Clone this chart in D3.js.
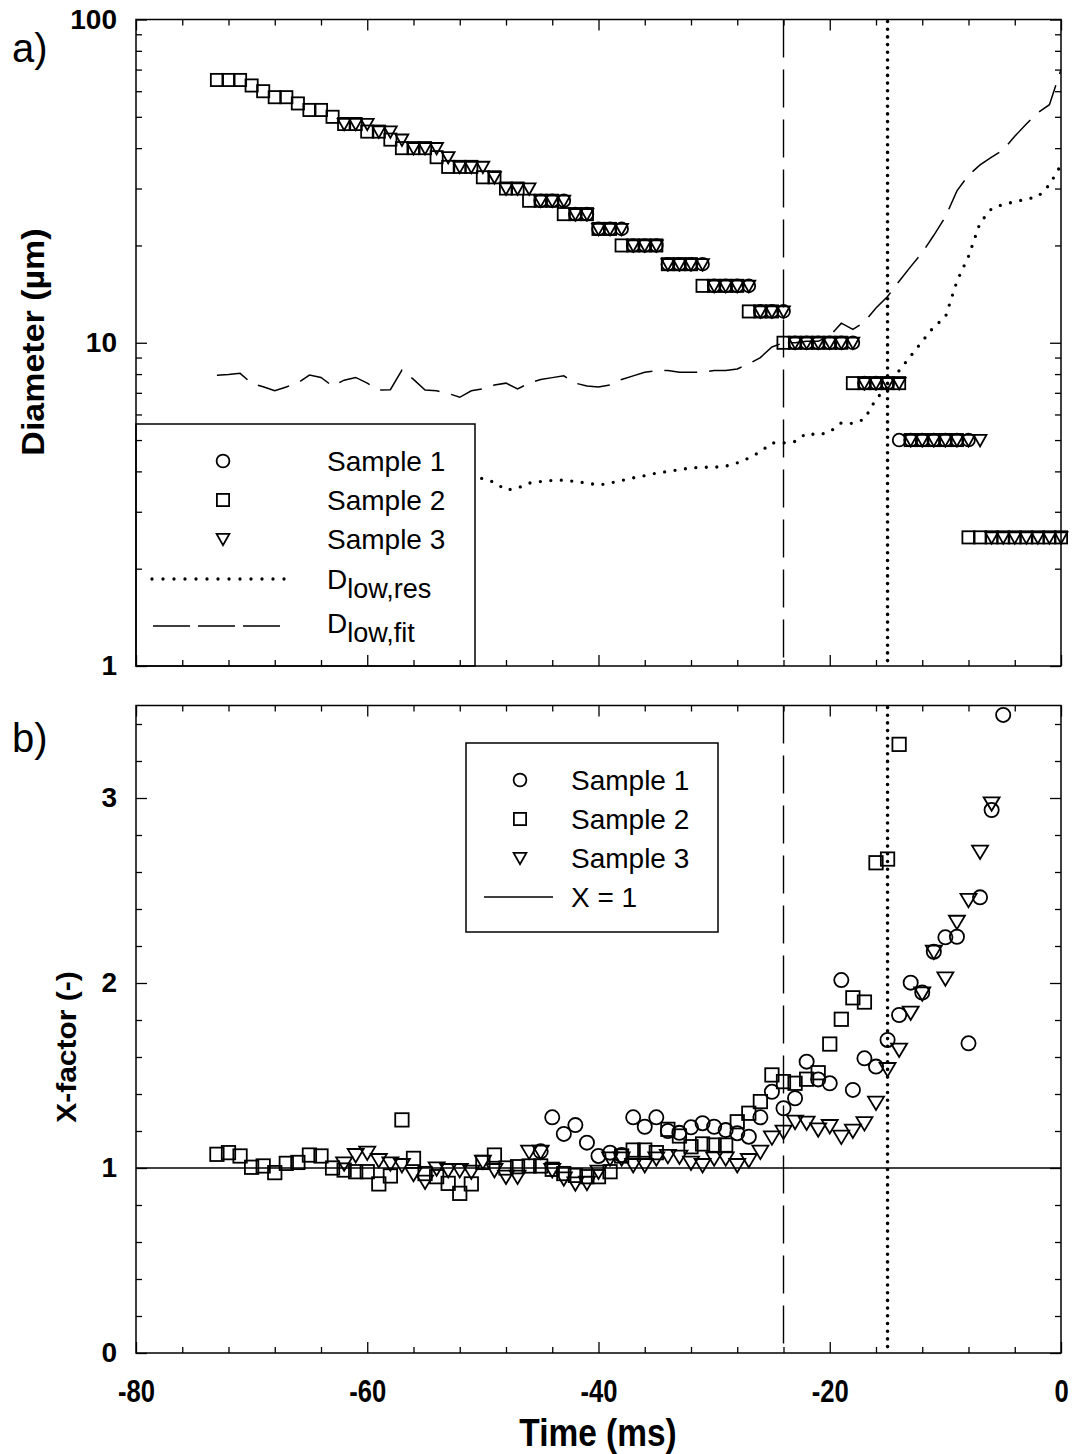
<!DOCTYPE html>
<html><head><meta charset="utf-8">
<script src="https://cdn.jsdelivr.net/npm/d3@7"></script>
<style>body{margin:0;background:#fff}</style>
</head><body>
<svg id="c" width="1073" height="1454" xmlns="http://www.w3.org/2000/svg"></svg>
<script>
// ---------- DATA ----------
// Panel a: diameter (µm) vs time (ms) per sample, [time, diameter]
const sample1Diameter = [[-45,27.5],[-44,27.5],[-43,27.5],[-42,25],[-41,25],[-40,22.5],[-39,22.5],[-38,22.5],[-37,20],[-36,20],[-35,20],[-34,17.5],[-33,17.5],[-32,17.5],[-31,17.5],[-30,15],[-29,15],[-28,15],[-27,15],[-26,12.5],[-25,12.5],[-24,12.5],[-23,10],[-22,10],[-21,10],[-20,10],[-19,10],[-18,10],[-17,7.5],[-16,7.5],[-15,7.5],[-14,5],[-13,5],[-12,5],[-11,5],[-10,5],[-9,5],[-8,5]];
const sample2Diameter = [[-73,65],[-72,65],[-71,65],[-70,62.5],[-69,60],[-68,57.5],[-67,57.5],[-66,55],[-65,52.5],[-64,52.5],[-63,50],[-62,47.5],[-61,47.5],[-60,45],[-59,45],[-58,42.5],[-57,40],[-56,40],[-55,40],[-54,37.5],[-53,35],[-52,35],[-51,35],[-50,32.5],[-49,32.5],[-48,30],[-47,30],[-46,27.5],[-45,27.5],[-44,27.5],[-43,25],[-42,25],[-41,25],[-40,22.5],[-39,22.5],[-38,20],[-37,20],[-36,20],[-35,20],[-34,17.5],[-33,17.5],[-32,17.5],[-31,15],[-30,15],[-29,15],[-28,15],[-27,12.5],[-26,12.5],[-25,12.5],[-24,10],[-23,10],[-22,10],[-21,10],[-20,10],[-19,10],[-18,7.5],[-17,7.5],[-16,7.5],[-15,7.5],[-14,7.5],[-13,5],[-12,5],[-11,5],[-10,5],[-9,5],[-8,2.5],[-7,2.5],[-6,2.5],[-5,2.5],[-4,2.5],[-3,2.5],[-2,2.5],[-1,2.5],[0,2.5]];
const sample3Diameter = [[-62,47.5],[-61,47.5],[-60,47.5],[-59,45],[-58,45],[-57,42.5],[-56,40],[-55,40],[-54,40],[-53,37.5],[-52,35],[-51,35],[-50,35],[-49,32.5],[-48,30],[-47,30],[-46,30],[-45,27.5],[-44,27.5],[-43,27.5],[-42,25],[-41,25],[-40,22.5],[-39,22.5],[-38,22.5],[-37,20],[-36,20],[-35,20],[-34,17.5],[-33,17.5],[-32,17.5],[-31,17.5],[-30,15],[-29,15],[-28,15],[-27,15],[-26,12.5],[-25,12.5],[-24,12.5],[-23,10],[-22,10],[-21,10],[-20,10],[-19,10],[-18,10],[-17,7.5],[-16,7.5],[-15,7.5],[-14,7.5],[-13,5],[-12,5],[-11,5],[-10,5],[-9,5],[-8,5],[-7,5],[-6,2.5],[-5,2.5],[-4,2.5],[-3,2.5],[-2,2.5],[-1,2.5],[0,2.5]];

// D_low,fit and D_low,res curves
const fitTime = [-73,-72,-71,-70,-69,-68,-67,-66,-65,-64,-63,-62,-61,-60,-59,-58,-57,-56,-55,-54,-53,-52,-51,-50,-49,-48,-47,-46,-45,-44,-43,-42,-41,-40,-39,-38,-37,-36,-35,-34,-33,-32,-31,-30,-29,-28,-27,-26,-25,-24,-23,-22,-21,-20,-19,-18,-17,-16,-15,-14,-13,-12,-11,-10,-9,-8,-7,-6,-5,-4,-3,-2,-1,0];
const fitDiameter = [7.94,7.98,8.04,7.49,7.31,7.10,7.30,7.52,7.94,7.81,7.34,7.66,7.81,7.50,7.14,7.16,8.23,7.70,7.14,7.10,6.97,6.78,7.10,7.20,7.40,7.50,7.20,7.50,7.70,7.80,7.90,7.50,7.35,7.30,7.40,7.70,7.90,8.10,8.20,8.20,8.10,8.10,8.10,8.20,8.20,8.30,8.60,9.00,9.70,10.0,10.0,10.1,10.1,10.5,11.5,11.0,11.6,12.8,13.9,15.5,17.2,19.0,21.5,24.5,29.5,33.0,35.5,37.5,39.5,43.5,47.5,51.5,54.5,70.0];
const resTime = [-51,-50,-49,-48,-47,-46,-45,-44,-43,-42,-41,-40,-39,-38,-37,-36,-35,-34,-33,-32,-31,-30,-29,-28,-27,-26,-25,-24,-23,-22,-21,-20,-19,-18,-17,-16,-15,-14,-13,-12,-11,-10,-9,-8,-7,-6,-5,-4,-3,-2,-1,0];
const resDiameter = [3.85,3.80,3.70,3.50,3.55,3.68,3.72,3.75,3.76,3.72,3.68,3.63,3.68,3.75,3.82,3.88,3.95,4.00,4.05,4.10,4.12,4.12,4.15,4.25,4.40,4.60,4.90,4.90,4.95,5.25,5.18,5.30,5.65,5.63,5.80,6.70,7.30,8.20,9.10,10.1,11.2,12.0,15.5,18.5,23.5,26.0,26.8,27.3,27.8,28.3,30.8,35.5];

// Panel b: X-factor vs time, [time, X]
const sample1X = [[-45,1.09],[-44,1.274],[-43,1.184],[-42,1.232],[-41,1.137],[-40,1.065],[-39,1.083],[-38,1.07],[-37,1.274],[-36,1.223],[-35,1.274],[-34,1.20],[-33,1.19],[-32,1.22],[-31,1.242],[-30,1.223],[-29,1.205],[-28,1.188],[-27,1.169],[-26,1.274],[-25,1.412],[-24,1.323],[-23,1.377],[-22,1.575],[-21,1.479],[-20,1.458],[-19,2.016],[-18,1.422],[-17,1.593],[-16,1.548],[-15,1.692],[-14,1.827],[-13,2.002],[-12,1.948],[-11,2.169],[-10,2.247],[-9,2.25],[-8,1.674],[-7,2.463],[-6,2.935],[-5,3.449]];
const sample2X = [[-73,1.074],[-72,1.083],[-71,1.065],[-70,1.004],[-69,1.011],[-68,0.975],[-67,1.025],[-66,1.03],[-65,1.07],[-64,1.065],[-63,1.0],[-62,0.989],[-61,0.98],[-60,0.98],[-59,0.914],[-58,0.957],[-57,1.26],[-56,1.052],[-55,0.97],[-54,0.953],[-53,0.917],[-52,0.863],[-51,0.914],[-50,1.03],[-49,1.07],[-48,1.0],[-47,1.007],[-46,1.011],[-45,1.011],[-44,0.993],[-43,0.97],[-42,0.96],[-41,0.953],[-40,0.953],[-39,0.98],[-38,1.065],[-37,1.097],[-36,1.097],[-35,1.083],[-34,1.209],[-33,1.173],[-32,1.115],[-31,1.13],[-30,1.124],[-29,1.124],[-28,1.25],[-27,1.296],[-26,1.359],[-25,1.503],[-24,1.467],[-23,1.458],[-22,1.48],[-21,1.515],[-20,1.67],[-19,1.804],[-18,1.92],[-17,1.897],[-16,2.65],[-15,2.67],[-14,3.29]];
const sample3X = [[-62,1.025],[-61,1.07],[-60,1.083],[-59,1.043],[-58,1.025],[-57,1.016],[-56,0.968],[-55,0.926],[-54,0.998],[-53,0.989],[-52,0.989],[-51,0.98],[-50,1.034],[-49,0.989],[-48,0.953],[-47,0.953],[-46,1.088],[-45,1.088],[-44,0.989],[-43,0.944],[-42,0.917],[-41,0.92],[-40,0.98],[-39,1.052],[-38,1.052],[-37,1.016],[-36,1.016],[-35,1.052],[-34,1.065],[-33,1.061],[-32,1.029],[-31,1.016],[-30,1.052],[-29,1.052],[-28,1.016],[-27,1.043],[-26,1.088],[-25,1.165],[-24,1.196],[-23,1.25],[-22,1.245],[-21,1.209],[-20,1.227],[-19,1.169],[-18,1.202],[-17,1.242],[-16,1.353],[-15,1.535],[-14,1.64],[-13,1.84],[-12,1.944],[-11,2.169],[-10,2.025],[-9,2.331],[-8,2.449],[-7,2.71],[-6,2.971]];

// reference lines and ticks
const eventTimes = {dashed: -24, dotted: -15};
const xTickValues = [-80,-60,-40,-20,0];
const yTickValuesA = [1,10,100];
const yTickValuesB = [0,1,2,3];
const legendA = ["Sample 1","Sample 2","Sample 3"];
const legendB = ["Sample 1","Sample 2","Sample 3","X = 1"];

// ---------- DRAW ----------
const svg = d3.select("#c");
const L = 136, R = 1061;
const aTop = 19.5, aBot = 666, bTop = 705.5, bBot = 1353;
const x = d3.scaleLinear().domain([-80,0]).range([L,R]);
const yA = d3.scaleLog().domain([1,100]).range([aBot,aTop]);
const yB = d3.scaleLinear().domain([0,3.5]).range([bBot,bTop]);

const xMinor = d3.range(-80,0.1,4).filter(v => !xTickValues.includes(v));
const yMinorA = [2,3,4,5,6,7,8,9,20,30,40,50,60,70,80,90];
const yMinorB = d3.range(0,3.51,0.2).map(v=>+v.toFixed(1)).filter(v => !yTickValuesB.includes(v));

const tickFontY = "bold 28px 'Liberation Sans', Arial, sans-serif";
const tickFontX = "bold 32px 'Liberation Sans', Arial, sans-serif";
const plain = d => String(d);

function axes(y, top, bot, yMajor, yMinor, showX) {
  const g = svg.append("g");
  const style = sel => { sel.select(".domain").remove(); sel.selectAll("line").attr("stroke","#000").attr("stroke-width",1.3); };
  g.append("g").attr("transform",`translate(${L},0)`)
    .call(d3.axisLeft(y).tickValues(yMajor).tickSizeInner(-11).tickSizeOuter(0).tickPadding(19).tickFormat(plain))
    .call(style).call(s=>s.selectAll("text").style("font",tickFontY).attr("fill","#000"));
  g.append("g").attr("transform",`translate(${L},0)`)
    .call(d3.axisLeft(y).tickValues(yMinor).tickSizeInner(-6).tickSizeOuter(0).tickFormat(""))
    .call(style);
  g.append("g").attr("transform",`translate(${R},0)`)
    .call(d3.axisRight(y).tickValues(yMajor).tickSizeInner(-11).tickSizeOuter(0).tickFormat(""))
    .call(style);
  g.append("g").attr("transform",`translate(${R},0)`)
    .call(d3.axisRight(y).tickValues(yMinor).tickSizeInner(-6).tickSizeOuter(0).tickFormat(""))
    .call(style);
  g.append("g").attr("transform",`translate(0,${top})`)
    .call(d3.axisTop(x).tickValues(xTickValues).tickSizeInner(-11).tickSizeOuter(0).tickFormat(""))
    .call(style);
  g.append("g").attr("transform",`translate(0,${top})`)
    .call(d3.axisTop(x).tickValues(xMinor).tickSizeInner(-6).tickSizeOuter(0).tickFormat(""))
    .call(style);
  g.append("g").attr("transform",`translate(0,${bot})`)
    .call(d3.axisBottom(x).tickValues(xTickValues).tickSizeInner(-11).tickSizeOuter(0).tickPadding(26).tickFormat(showX ? plain : ""))
    .call(style).call(s=>s.selectAll("text").style("font",tickFontX).attr("fill","#000").attr("transform","scale(0.8,1)"));
  g.append("g").attr("transform",`translate(0,${bot})`)
    .call(d3.axisBottom(x).tickValues(xMinor).tickSizeInner(-6).tickSizeOuter(0).tickFormat(""))
    .call(style);
  g.append("rect").attr("x",L).attr("y",top).attr("width",R-L).attr("height",bot-top)
    .attr("fill","none").attr("stroke","#000").attr("stroke-width",1.5);
}

// marker shapes (size config per panel)
const sizeA = {r:6.4, sq:12.2, tw:12.8, th:11.4};
const sizeB = {r:7.1, sq:13.4, tw:16.0, th:13.4};
function marker(sel, type, px, py, s) {
  if (type === "circle") {
    sel.append("circle").attr("cx",px).attr("cy",py).attr("r",s.r);
  } else if (type === "square") {
    sel.append("rect").attr("x",px-s.sq/2).attr("y",py-s.sq/2).attr("width",s.sq).attr("height",s.sq);
  } else {
    const hw = s.tw/2, t = s.th*0.45, b = s.th*0.55;
    sel.append("path").attr("d",`M${px-hw},${py-t} L${px+hw},${py-t} L${px},${py+b} Z`);
  }
}
function drawSeries(data, y, type, s) {
  const g = svg.append("g").attr("fill","none").attr("stroke","#000").attr("stroke-width",1.8).attr("stroke-linejoin","miter");
  data.forEach(d => marker(g, type, x(d[0]), y(d[1]), s));
}

// ----- Panel a -----
const fitLine = d3.line().x((d,i)=>x(fitTime[i])).y(d=>yA(d));
svg.append("path").attr("d", fitLine(fitDiameter)).attr("fill","none").attr("stroke","#000")
  .attr("stroke-width",1.5).attr("stroke-dasharray","33 12");
const resLine = d3.line().x((d,i)=>x(resTime[i])).y(d=>yA(d));
svg.append("path").attr("d", resLine(resDiameter)).attr("fill","none").attr("stroke","#000")
  .attr("stroke-width",3.3).attr("stroke-linecap","round").attr("stroke-dasharray","0 10.5");

function vlines(top, bot) {
  svg.append("line").attr("x1",x(eventTimes.dashed)).attr("x2",x(eventTimes.dashed))
    .attr("y1",top).attr("y2",bot).attr("stroke","#000").attr("stroke-width",1.4).attr("stroke-dasharray","38 12");
  svg.append("line").attr("x1",x(eventTimes.dotted)).attr("x2",x(eventTimes.dotted))
    .attr("y1",top+2).attr("y2",bot).attr("stroke","#000").attr("stroke-width",3.6)
    .attr("stroke-linecap","round").attr("stroke-dasharray","0 7.7");
}
vlines(aTop, aBot);

drawSeries(sample2Diameter, yA, "square", sizeA);
drawSeries(sample1Diameter, yA, "circle", sizeA);
drawSeries(sample3Diameter, yA, "triangle", sizeA);

// legend a
const legFont = "28px 'Liberation Sans', Arial, sans-serif";
const la = svg.append("g");
la.append("rect").attr("x",L).attr("y",424).attr("width",339).attr("height",aBot-424)
  .attr("fill","#fff").attr("stroke","#000").attr("stroke-width",1.5);
const laSym = la.append("g").attr("fill","none").attr("stroke","#000").attr("stroke-width",1.8);
["circle","square","triangle"].forEach((t,i)=>{
  marker(laSym, t, 223, 461 + i*39, sizeA);
  la.append("text").attr("x",327).attr("y",471 + i*39).text(legendA[i]).style("font",legFont);
});
la.append("line").attr("x1",152).attr("x2",286).attr("y1",579).attr("y2",579).attr("stroke","#000")
  .attr("stroke-width",3.3).attr("stroke-linecap","round").attr("stroke-dasharray","0 11");
la.append("line").attr("x1",153).attr("x2",280).attr("y1",626).attr("y2",626).attr("stroke","#000")
  .attr("stroke-width",1.5).attr("stroke-dasharray","37 8");
[["low,res",589],["low,fit",633]].forEach(([sub,yb])=>{
  const t = la.append("text").attr("x",327).attr("y",yb).style("font",legFont);
  t.append("tspan").text("D");
  t.append("tspan").attr("dy",9).style("font-size","27px").text(sub);
});
axes(yA, aTop, aBot, yTickValuesA, yMinorA, false);

// ----- Panel b -----
svg.append("line").attr("x1",L).attr("x2",R).attr("y1",yB(1)).attr("y2",yB(1))
  .attr("stroke","#000").attr("stroke-width",1.5);
vlines(bTop, bBot);
drawSeries(sample2X, yB, "square", sizeB);
drawSeries(sample1X, yB, "circle", sizeB);
drawSeries(sample3X, yB, "triangle", sizeB);

const lb = svg.append("g");
lb.append("rect").attr("x",466).attr("y",743).attr("width",252).attr("height",189)
  .attr("fill","#fff").attr("stroke","#000").attr("stroke-width",1.5);
const lbSym = lb.append("g").attr("fill","none").attr("stroke","#000").attr("stroke-width",1.8);
["circle","square","triangle"].forEach((t,i)=>{
  marker(lbSym, t, 520, 780 + i*39, sizeA);
});
lb.append("line").attr("x1",484).attr("x2",553).attr("y1",897).attr("y2",897).attr("stroke","#000").attr("stroke-width",1.5);
legendB.forEach((s,i)=> lb.append("text").attr("x",571).attr("y",790 + i*39).text(s).style("font",legFont));
axes(yB, bTop, bBot, yTickValuesB, yMinorB, true);

// titles
const titleFont = "bold 34px 'Liberation Sans', Arial, sans-serif";
svg.append("text").attr("transform","translate(44,342) rotate(-90) scale(1,0.9)").attr("text-anchor","middle")
  .style("font",titleFont).text("Diameter (µm)");
svg.append("text").attr("transform","translate(76,1047) rotate(-90) scale(1,0.9)").attr("text-anchor","middle")
  .style("font","bold 30px 'Liberation Sans', Arial, sans-serif").text("X-factor (-)");
svg.append("text").attr("transform","translate(598,1446) scale(0.88,1)").attr("text-anchor","middle")
  .style("font","bold 38px 'Liberation Sans', Arial, sans-serif").text("Time (ms)");
svg.append("text").attr("x",12).attr("y",62).style("font","40px 'Liberation Sans', Arial, sans-serif").text("a)");
svg.append("text").attr("x",12).attr("y",752).style("font","40px 'Liberation Sans', Arial, sans-serif").text("b)");
</script>
</body></html>
